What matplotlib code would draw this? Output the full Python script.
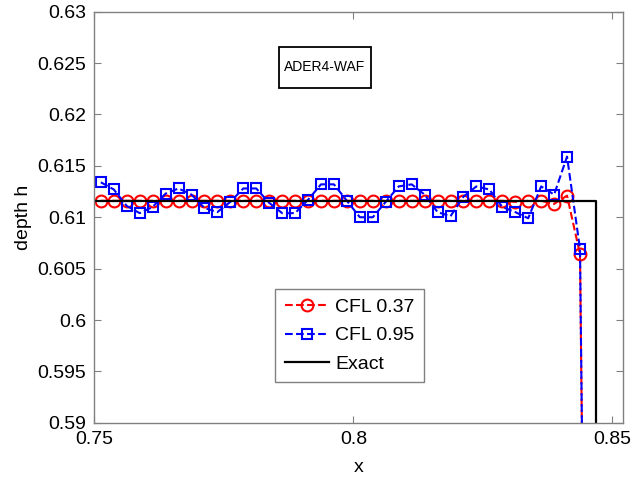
import matplotlib
matplotlib.use("Agg")
import matplotlib.pyplot as plt
from matplotlib.patches import Rectangle
from matplotlib.ticker import FormatStrFormatter

plt.rcParams['font.family'] = ['Liberation Sans', 'DejaVu Sans']

# cell centres near the shock
x_cells = [0.75125, 0.75375, 0.75625, 0.75875, 0.76125, 0.76375, 0.76625, 0.76875,
           0.77125, 0.77375, 0.77625, 0.77875, 0.78125, 0.78375, 0.78625, 0.78875,
           0.79125, 0.79375, 0.79625, 0.79875, 0.80125, 0.80375, 0.80625, 0.80875,
           0.81125, 0.81375, 0.81625, 0.81875, 0.82125, 0.82375, 0.82625, 0.82875,
           0.83125, 0.83375, 0.83625, 0.83875, 0.84125, 0.84375, 0.84625]

h_cfl037 = [0.6116, 0.6116, 0.6116, 0.6116, 0.6116, 0.6116, 0.6116, 0.6116,
            0.6116, 0.6116, 0.6116, 0.6116, 0.6116, 0.6116, 0.6116, 0.6116,
            0.6116, 0.6116, 0.6116, 0.6116, 0.6116, 0.6116, 0.6116, 0.6116,
            0.6116, 0.6116, 0.6116, 0.6116, 0.6116, 0.6116, 0.6116, 0.6116,
            0.6115, 0.6116, 0.6116, 0.6113, 0.6121, 0.6064, 0.49]

h_cfl095 = [0.6134, 0.6127, 0.6111, 0.6104, 0.6110, 0.6123, 0.6128, 0.6122,
            0.6109, 0.6105, 0.6115, 0.6128, 0.6128, 0.6114, 0.6104, 0.6104,
            0.6117, 0.6132, 0.6132, 0.6116, 0.6100, 0.6100, 0.6115, 0.6130,
            0.6132, 0.6122, 0.6105, 0.6101, 0.6120, 0.6130, 0.6127, 0.6110,
            0.6105, 0.6099, 0.6130, 0.6122, 0.6159, 0.6069, 0.49]

x_exact = [0.70, 0.8469, 0.8469]
h_exact = [0.6116, 0.6116, 0.45]

fig = plt.figure(figsize=(6.42, 4.86), dpi=100)
ax = fig.add_axes([0.147, 0.130, 0.823, 0.846])

ax.plot(x_cells, h_cfl037, '--o', color='red', lw=1.5, ms=8.5, mew=1.5,
        mfc='none', label='CFL 0.37')
ax.plot(x_cells, h_cfl095, '--s', color='blue', lw=1.5, ms=7.5, mew=1.5,
        mfc='none', label='CFL 0.95')
ax.plot(x_exact, h_exact, '-', color='black', lw=1.6, label='Exact')

ax.set_xlim(0.75, 0.852)
ax.set_ylim(0.59, 0.63)
ax.set_xticks([0.75, 0.8, 0.85])
ax.set_yticks([0.59, 0.595, 0.6, 0.605, 0.61, 0.615, 0.62, 0.625, 0.63])
ax.xaxis.set_major_formatter(FormatStrFormatter('%g'))
ax.yaxis.set_major_formatter(FormatStrFormatter('%g'))
ax.tick_params(direction='in', top=True, right=True, labelsize=14,
               length=5, width=0.8, color='#808080', pad=6)
for s in ax.spines.values():
    s.set_color('#808080')
    s.set_linewidth(1.0)

ax.set_xlabel('x', fontsize=14, labelpad=8)
ax.set_ylabel('depth h', fontsize=14, labelpad=4)

# annotation box with the scheme name
ax.add_patch(Rectangle((0.3495, 0.8144), 0.1742, 0.0997, transform=ax.transAxes,
                       fc='white', ec='black', lw=1.3, zorder=5))
ax.text(0.4366, 0.8643, 'ADER4-WAF', transform=ax.transAxes, fontsize=10,
        ha='center', va='center', zorder=6)

leg = ax.legend(loc='center', bbox_to_anchor=(0.483, 0.212), fontsize=14,
                fancybox=False, framealpha=1, edgecolor='#808080',
                handlelength=2.3, borderpad=0.5, labelspacing=0.55,
                handletextpad=0.3, borderaxespad=0)
leg.get_frame().set_linewidth(1.0)

fig.savefig('out.png', dpi=100)
